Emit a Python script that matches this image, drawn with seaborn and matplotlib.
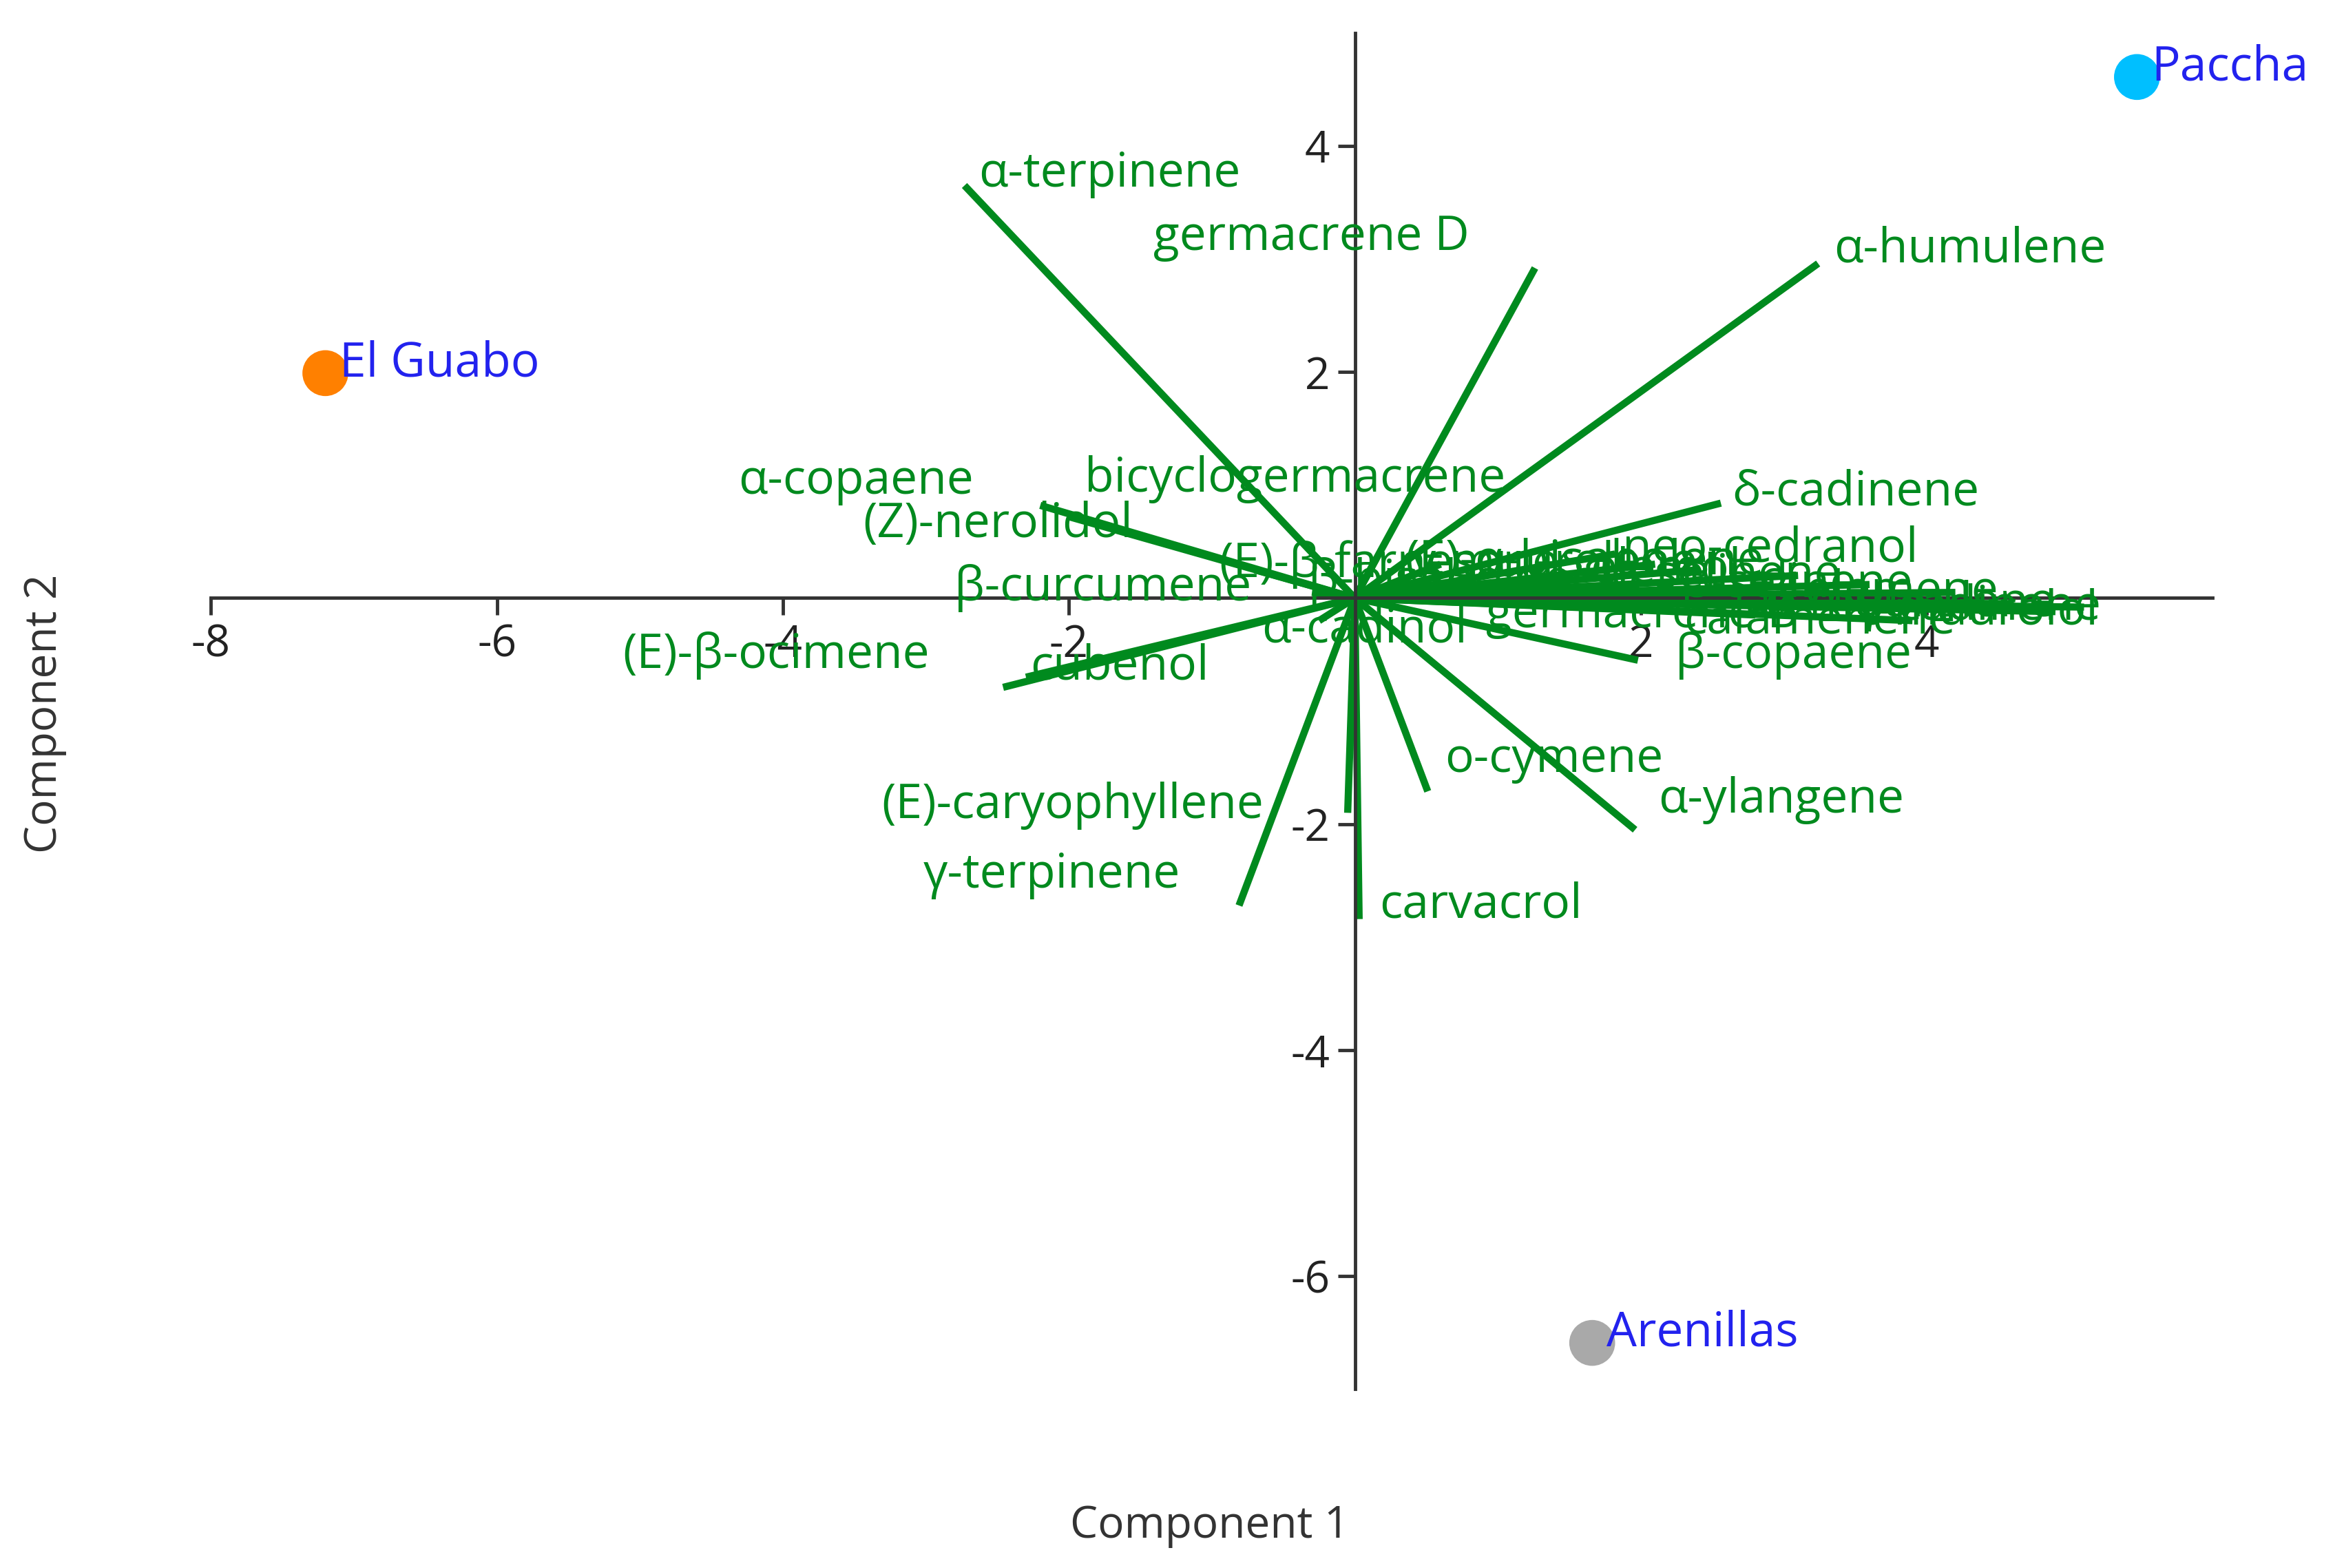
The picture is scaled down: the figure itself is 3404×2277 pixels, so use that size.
import numpy as np
import pandas as pd
import seaborn as sns
import matplotlib.pyplot as plt

# sample scores
sites = ["Paccha", "El Guabo", "Arenillas"]
site_pc1 = [5.47, -7.20, 1.66]
site_pc2 = [4.61, 1.99, -6.59]
site_colors = ["#00BFFF", "#FF8000", "#A9A9A9"]

# compound loadings (vector ends)
compounds = ["α-terpinene", "germacrene D", "α-humulene", "δ-cadinene", "neo-cedranol",
             "bicyclogermacrene", "α-copaene", "(Z)-nerolidol", "β-curcumene",
             "(E)-β-ocimene", "cubenol", "α-cadinol", "(E)-caryophyllene", "γ-terpinene",
             "carvacrol", "o-cymene", "α-ylangene", "β-copaene",
             "γ-cadinene", "α-muurolene", "β-elemene", "β-selinene", "α-selinene",
             "germacrene B", "elemol", "τ-muurolol", "calamenene", "γ-muurolene",
             "β-bisabolene", "(E)-β-farnesene", "(E)-α-bisabolene"]
load_pc1 = [-2.73, 1.26, 3.24, 2.56, 1.82,
            0.15, -2.20, -2.00, -0.30,
            -2.46, -2.30, -0.25, -0.05, -0.81,
            0.03, 0.51, 1.96, 1.98,
            5.10, 4.60, 4.20, 3.60, 3.10,
            2.80, 2.40, 4.90, 3.90, 2.10,
            1.40, -0.70, 0.60]
load_pc2 = [3.65, 2.92, 2.96, 0.84, 0.39,
            0.35, 0.82, 0.72, 0.05,
            -0.79, -0.70, -0.20, -1.90, -2.72,
            -2.84, -1.71, -2.05, -0.55,
            -0.08, -0.05, 0.05, 0.12, 0.20,
            -0.15, 0.25, -0.12, -0.20, 0.30,
            0.15, 0.25, 0.30]

# label anchors: (x, y, ha)
LABEL_POS = {
    "α-terpinene": (-2.63, 3.75, "left"), "germacrene D": (-1.41, 3.19, "left"),
    "α-humulene": (3.35, 3.08, "left"), "δ-cadinene": (2.64, 0.93, "left"),
    "neo-cedranol": (1.87, 0.43, "left"), "bicyclogermacrene": (-1.89, 1.05, "left"),
    "α-copaene": (-4.31, 1.03, "left"), "(Z)-nerolidol": (-3.44, 0.65, "left"),
    "β-curcumene": (-2.80, 0.09, "left"), "(E)-β-ocimene": (-5.12, -0.51, "left"),
    "cubenol": (-2.27, -0.61, "left"), "α-cadinol": (-0.65, -0.28, "left"),
    "(E)-caryophyllene": (-3.31, -1.84, "left"), "γ-terpinene": (-3.02, -2.45, "left"),
    "carvacrol": (0.17, -2.72, "left"), "o-cymene": (0.63, -1.43, "left"),
    "α-ylangene": (2.12, -1.79, "left"), "β-copaene": (2.24, -0.51, "left"),
    "(E)-β-farnesene": (-0.95, 0.30, "left"), "(E)-α-bisabolene": (0.35, 0.32, "left"),
}

sns.set_theme(style="white")
plt.rcParams["font.family"] = ["Open Sans", "DejaVu Sans"]

fig = plt.figure(figsize=(34.04, 22.77), dpi=100)
ax = fig.add_axes([0.090, 0.114, 0.854, 0.865])

green = "#008a1e"
for name, x, y in zip(compounds, load_pc1, load_pc2):
    ax.plot([0, x], [0, y], color=green, lw=7.5, solid_capstyle="butt", zorder=2)
    if name in LABEL_POS:
        tx, ty, ha = LABEL_POS[name]
    else:
        tx, ty, ha = min(x + 0.3, 5.22), y, "right"
    ax.text(tx, ty, name, color=green, fontsize=50, ha=ha, va="center", zorder=3)

df = pd.DataFrame({"site": sites, "pc1": site_pc1, "pc2": site_pc2})
sns.scatterplot(data=df, x="pc1", y="pc2", hue="site", palette=site_colors,
                s=2300, linewidth=0, legend=False, ax=ax, zorder=4)
for name, x, y in zip(sites, site_pc1, site_pc2):
    ax.text(x + 0.1, y + 0.08, name, color="#2222ee", fontsize=50, va="center", zorder=5)

ax.set_xlim(-8.0, 6.0)
ax.set_ylim(-7.0, 5.0)
for s in ["top", "right"]:
    ax.spines[s].set_visible(False)
for s in ["left", "bottom"]:
    ax.spines[s].set_position(("data", 0))
    ax.spines[s].set_color("#333333")
    ax.spines[s].set_linewidth(3.5)
ax.set_xticks([-8, -6, -4, -2, 2, 4])
ax.set_yticks([-6, -4, -2, 2, 4])
ax.set_xticklabels(["-8", "-6", "-4", "-2", "2", "4"])
ax.set_yticklabels(["-6", "-4", "-2", "2", "4"])
ax.tick_params(axis="both", length=18, width=3.5, color="#333333", labelsize=46,
               labelcolor="#222222", direction="out", pad=8, bottom=True, left=True)
ax.set_xlabel("")
ax.set_ylabel("")

fig.text(0.516, 0.027, "Component 1", ha="center", va="center", fontsize=46, color="#333333")
fig.text(0.019, 0.545, "Component 2", ha="center", va="center", rotation=90,
         fontsize=46, color="#333333")

fig.savefig("out.png", dpi=100, facecolor="white")
